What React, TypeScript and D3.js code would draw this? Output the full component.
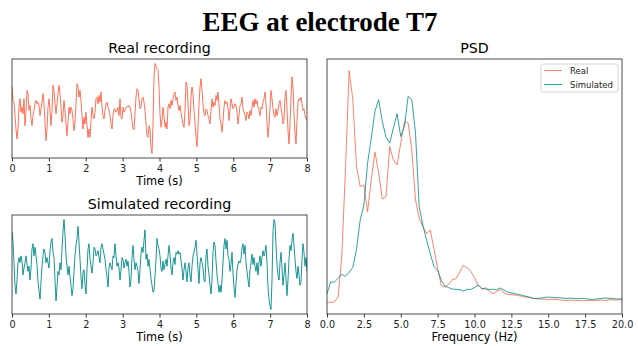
import React, { useEffect, useRef } from 'react';
import * as d3 from 'd3';

const duration = 8; // seconds shown in each recording

// Real recording, evenly sampled over 0..8 s (arbitrary µV units)
const realSignal = [
  67, 25, 20, -20, -60, -90, -60, 5, 30, -10,
  5, -15, 30, -50, -5, 55, 45, -5, 10, -30,
  -50, -20, -5, 15, 25, 15, 20, 10, -20, 0,
  20, 45, 15, -40, -95, -60, 5, 30, -5, -50,
  -5, 70, 55, 15, -15, 15, 45, 70, 45, 5,
  -40, -20, 25, -5, -45, -80, -40, 5, -15, 5,
  -5, -30, -65, -40, 15, 75, 65, 35, 55, 25,
  -20, -60, -25, -45, -10, -50, -85, -60, -85, -35,
  5, -20, -30, -10, 30, 35, 15, 40, 20, 50,
  5, -20, -30, -5, 15, 20, 5, -5, -20, -45,
  -60, -20, 0, 0, -10, -5, 5, -20, 30, -25,
  -30, 5, -10, -5, 5, 7, 5, 10, 5, -10,
  -35, -60, -63, -15, 35, 60, 55, 30, 0, 5,
  30, 35, 20, -5, -45, -80, -85, -50, -60, -115,
  -133, -45, 95, 135, 127, 120, 117, 65, -15, -55,
  -35, 5, -20, -55, -40, -60, 5, 15, 0, 25,
  10, 30, 45, 50, 25, 35, 10, -5, 10, -10,
  -30, -45, -55, -5, 80, 70, 15, -50, -35, 35,
  65, 45, -5, -40, -85, -113, -55, 15, 65, 90,
  55, 15, -15, -20, 0, -5, -20, -30,
  -45, -5, 30, 5, 20, 10, 40, 25, 50, 15,
  -30, -45, -70, -35, 5, 25, 15, 20, 5, -35,
  -5, 30, 15, 0, 5, 15, 10, -10, -45, -20,
  10, 15, 35, 0, -10, -20, -35, -10, -15, -30,
  -5, -20, 5, 25, 5, 30, 15, 25, 5, -5,
  -20, 5, 0, 20, 30, 50, 15, -40, -85, -50,
  5, 55, 30, 0, -20, -25, 0, -20, -5, 15,
  25, 5, -15, -45, -35, 35, 55, 0, -65, -105,
  -45, 35, 95, 65, -15, -70, -105, -35, 20, 30,
  25, 35, 15, -5, 0, -20, -30, -35,
];

// Simulated recording, same sampling
const simulatedSignal = [
  95, 65, 5, -60, -85, -45, 5, 20, 5, 25,
  10, -30, -10, 5, 25, 0, -20, -5, -45, -10,
  45, 60, 25, 50, 25, 0, -50, -75, -100, -50,
  -5, 25, 45, 35, 5, 20, 5, -10, 40, 65,
  75, 35, 20, -45, -105, -65, -20, -30, 5, -15,
  45, 95, 130, 85, 25, -5, -30, -5, -35, -60,
  -90, -70, -20, 25, 55, 75, 110, 65, 15, -35,
  -70, -25, -15, -60, -85, -15, 45, 60, 15, -5,
  -25, 5, 50, 45, 25, 30, 40, 20, 5, 50,
  60, 45, 30, 15, -15, -35, -65, -10, 5, -5,
  -15, 25, 20, 60, 25, -5, 5, -10, -45, -15,
  20, 15, -10, 5, 15, -5, 10, -20, -65, -45,
  20, 55, 15, -15, 5, -5, -20, -55, -15, 30,
  50, 35, 70, 100, 15, 30, -5, 15, -15, -40,
  -60, -80, -75, -35, 15, 75, 55, 45, 25, -10,
  -20, 10, -15, 0, 15, -5, 25, 55, 30, -10,
  -30, 5, 20, 0, 35, 30, 40, 30, 35, 10,
  -10, -45, -15, 5, -20, -50, -10, 5, -30, -50,
  -5, 25, 35, 50, 70, 30, -15, -55, 5, 20,
  5, -10, -45, -50, 25, 45, -5, -30,
  -60, -85, -45, 35, 65, 55, 10, -30, -55, -80,
  -60, -80, -45, 5, 55, 75, 45, 70, 25, 15,
  -20, 0, 35, -25, -65, -95, -55, -15, 0, 10,
  5, 15, 50, 60, 30, 55, 5, -20, -45, -65,
  -15, 5, 30, 0, 20, -5, -20, 5, -30, 5,
  25, -5, 20, 40, 25, 35, 55, 5, -65, -100,
  -120, -130, -45, 95, 130, 120, 55, 0, -30, -45,
  5, 35, -10, -60, -30, 5, -40, -90, -45, 15,
  55, 40, 70, 90, 55, 15, -20, -40, -5, -30,
  -60, -50, 15, 60, 35, -5, 20, -20,
];

// PSD frequency bins (Hz)
const psdFreqs = [
  0, 0.25, 0.5, 0.75, 1, 1.25, 1.5, 1.75, 2, 2.25,
  2.5, 2.75, 3, 3.25, 3.5, 3.75, 4, 4.25, 4.5, 4.75,
  5, 5.25, 5.5, 5.75, 6, 6.25, 6.5, 6.75, 7, 7.25,
  7.5, 7.75, 8, 8.25, 8.5, 8.75, 9, 9.25, 9.5, 9.75,
  10, 10.25, 10.5, 10.75, 11, 11.25, 11.5, 11.75, 12, 12.25,
  12.5, 12.75, 13, 13.25, 13.5, 13.75, 14, 14.25, 14.5, 14.75,
  15, 15.25, 15.5, 15.75, 16, 16.25, 16.5, 16.75, 17, 17.25,
  17.5, 17.75, 18, 18.25, 18.5, 18.75, 19, 19.25, 19.5, 19.75,
  20,
];

const psdReal = [
  1.23, 1.2, 1.25, 1.73, 5.73, 14.4, 24.3, 21.4, 14.73, 12.73,
  12.9, 10.23, 13.4, 16.2, 14.1, 11.5, 11.73, 16.73, 15.4, 14.9,
  17.1, 19.23, 19.07, 16.4, 11.4, 9.6, 8.73, 8.07, 8.4, 6.57,
  4.57, 2.9, 2.73, 3.0, 3.47, 3.57, 4.23, 4.9, 4.63, 4.3,
  3.67, 2.9, 2.5, 2.67, 2.33, 2.07, 2.3, 2.47, 2.13, 2.0,
  1.97, 1.93, 1.87, 1.8, 1.73, 1.67, 1.6, 1.57, 1.53, 1.53,
  1.5, 1.5, 1.5, 1.47, 1.4, 1.4, 1.43, 1.4, 1.4, 1.37,
  1.37, 1.4, 1.37, 1.4, 1.43, 1.4, 1.43, 1.47, 1.43, 1.47,
  1.47,
];

const psdSimulated = [
  2.07, 3.23, 3.23, 3.6, 4.0, 3.8, 4.2, 4.7, 6.5, 9.4,
  10.9, 15.07, 17.57, 20.23, 21.4, 19.23, 17.67, 17.07, 18.57, 20.0,
  17.73, 18.73, 21.73, 21.4, 18.07, 10.73, 8.9, 7.4, 6.07, 4.8,
  4.4, 3.4, 2.83, 2.67, 2.53, 2.5, 2.47, 2.33, 2.5, 2.5,
  2.67, 2.93, 2.6, 2.53, 2.5, 2.5, 2.47, 2.63, 2.43, 2.23,
  2.13, 2.07, 2.0, 1.9, 1.8, 1.73, 1.6, 1.57, 1.63, 1.7,
  1.73, 1.7, 1.67, 1.67, 1.63, 1.6, 1.63, 1.6, 1.57, 1.6,
  1.57, 1.53, 1.5, 1.53, 1.57, 1.63, 1.63, 1.6, 1.57, 1.53,
  1.57,
];

const timeTicks = [0, 1, 2, 3, 4, 5, 6, 7, 8];
const freqTicks = [0, 2.5, 5, 7.5, 10, 12.5, 15, 17.5, 20];
const seriesNames = ['Real', 'Simulated'];

const realColor = '#ff6347';
const simColor = '#008b8b';
const font = 'DejaVu Sans, sans-serif';

// matplotlib-like autoscale: data extent plus 5% on each side
function padded(values: number[]): [number, number] {
  const [lo, hi] = d3.extent(values) as [number, number];
  const m = (hi - lo) * 0.05;
  return [lo - m, hi + m];
}

function App() {
  const svgRef = useRef<SVGSVGElement>(null);

  useEffect(() => {
    const svg = d3.select(svgRef.current);
    svg.selectAll('*').remove();

    svg.append('text')
      .attr('x', 320)
      .attr('y', 31)
      .attr('text-anchor', 'middle')
      .attr('font-family', 'Liberation Serif, Times New Roman, serif')
      .attr('font-weight', 'bold')
      .attr('font-size', 27)
      .text('EEG at electrode T7');

    // Draws one boxed axes with a bottom axis; returns group + x scale
    function panel(id: string, left: number, top: number, width: number, height: number,
      title: string, xLabel: string, xDomain: [number, number], ticks: number[], fmt: (d: any) => string) {
      const g = svg.append('g').attr('transform', `translate(${left},${top})`);
      const x = d3.scaleLinear().domain(xDomain).range([0, width]);

      svg.append('clipPath').attr('id', id)
        .append('rect').attr('x', 0).attr('y', 0).attr('width', width).attr('height', height);

      g.append('text')
        .attr('x', width / 2)
        .attr('y', -6)
        .attr('text-anchor', 'middle')
        .attr('font-family', font)
        .attr('font-size', 14.2)
        .attr('fill', '#000')
        .text(title);

      const axis = g.append('g')
        .attr('transform', `translate(0,${height})`)
        .call(d3.axisBottom(x).tickValues(ticks).tickFormat(fmt).tickSize(3.5).tickPadding(3.5));
      axis.select('.domain').remove();
      axis.selectAll('line').attr('stroke', '#000').attr('stroke-width', 0.8);
      axis.selectAll('text').attr('font-family', font).attr('font-size', 9.7).attr('fill', '#222');

      g.append('text')
        .attr('x', width / 2)
        .attr('y', height + 27)
        .attr('text-anchor', 'middle')
        .attr('font-family', font)
        .attr('font-size', 11.4)
        .attr('fill', '#000')
        .text(xLabel);

      const plot = g.append('g').attr('clip-path', `url(#${id})`);
      return { g, plot, x };
    }

    function frame(g: any, width: number, height: number) {
      g.append('rect')
        .attr('x', 0).attr('y', 0)
        .attr('width', width).attr('height', height)
        .attr('fill', 'none')
        .attr('stroke', '#222')
        .attr('stroke-width', 0.8);
    }

    const fmtInt = d3.format('d');
    const fmtFreq = d3.format('.1f');

    // Time series panels
    const recordings = [
      { id: 'clip-real', top: 59, title: 'Real recording', data: realSignal, color: realColor },
      { id: 'clip-sim', top: 215, title: 'Simulated recording', data: simulatedSignal, color: simColor },
    ];
    recordings.forEach(r => {
      const w = 295, h = 99;
      const { g, plot, x } = panel(r.id, 12, r.top, w, h, r.title, 'Time (s)', [0, duration], timeTicks, fmtInt);
      const y = d3.scaleLinear().domain(padded(r.data)).range([h, 0]);
      const n = r.data.length;
      const line = d3.line<number>()
        .x((d, i) => x((i * duration) / (n - 1)))
        .y(d => y(d));
      plot.append('path')
        .datum(r.data)
        .attr('d', line)
        .attr('fill', 'none')
        .attr('stroke', r.color)
        .attr('stroke-width', 1)
        .attr('stroke-opacity', 0.9)
        .attr('stroke-linejoin', 'round');
      frame(g, w, h);
    });

    // PSD panel
    const pw = 295, ph = 255;
    const psd = panel('clip-psd', 327, 59, pw, ph, 'PSD', 'Frequency (Hz)', [0, 20], freqTicks, fmtFreq);
    const yPsd = d3.scaleLinear().domain(padded(psdReal.concat(psdSimulated))).range([ph, 0]);
    const psdLine = d3.line<number>()
      .x((d, i) => psd.x(psdFreqs[i]))
      .y(d => yPsd(d));
    [psdReal, psdSimulated].forEach((s, k) => {
      psd.plot.append('path')
        .datum(s)
        .attr('d', psdLine)
        .attr('fill', 'none')
        .attr('stroke', k === 0 ? realColor : simColor)
        .attr('stroke-width', 1)
        .attr('stroke-opacity', 0.8)
        .attr('stroke-linejoin', 'round');
    });
    frame(psd.g, pw, ph);

    // Legend
    const lg = psd.g.append('g').attr('transform', `translate(${541 - 327},${64 - 59})`);
    lg.append('rect')
      .attr('width', 77).attr('height', 28).attr('rx', 2)
      .attr('fill', '#fff').attr('fill-opacity', 0.8)
      .attr('stroke', '#ccc').attr('stroke-width', 0.8);
    seriesNames.forEach((name, i) => {
      const yy = 6.5 + i * 14;
      lg.append('line')
        .attr('x1', 3).attr('x2', 21).attr('y1', yy).attr('y2', yy)
        .attr('stroke', i === 0 ? realColor : simColor)
        .attr('stroke-opacity', 0.8)
        .attr('stroke-width', 1);
      lg.append('text')
        .attr('x', 29).attr('y', yy + 3)
        .attr('font-family', font)
        .attr('font-size', 8.5)
        .attr('fill', '#222')
        .text(name);
    });
  }, []);

  return (
    <div style={{ position: 'absolute', left: 0, top: 0 }}>
      <svg ref={svgRef} width={638} height={346} style={{ display: 'block', background: '#fff' }}></svg>
    </div>
  );
}

export default App;
